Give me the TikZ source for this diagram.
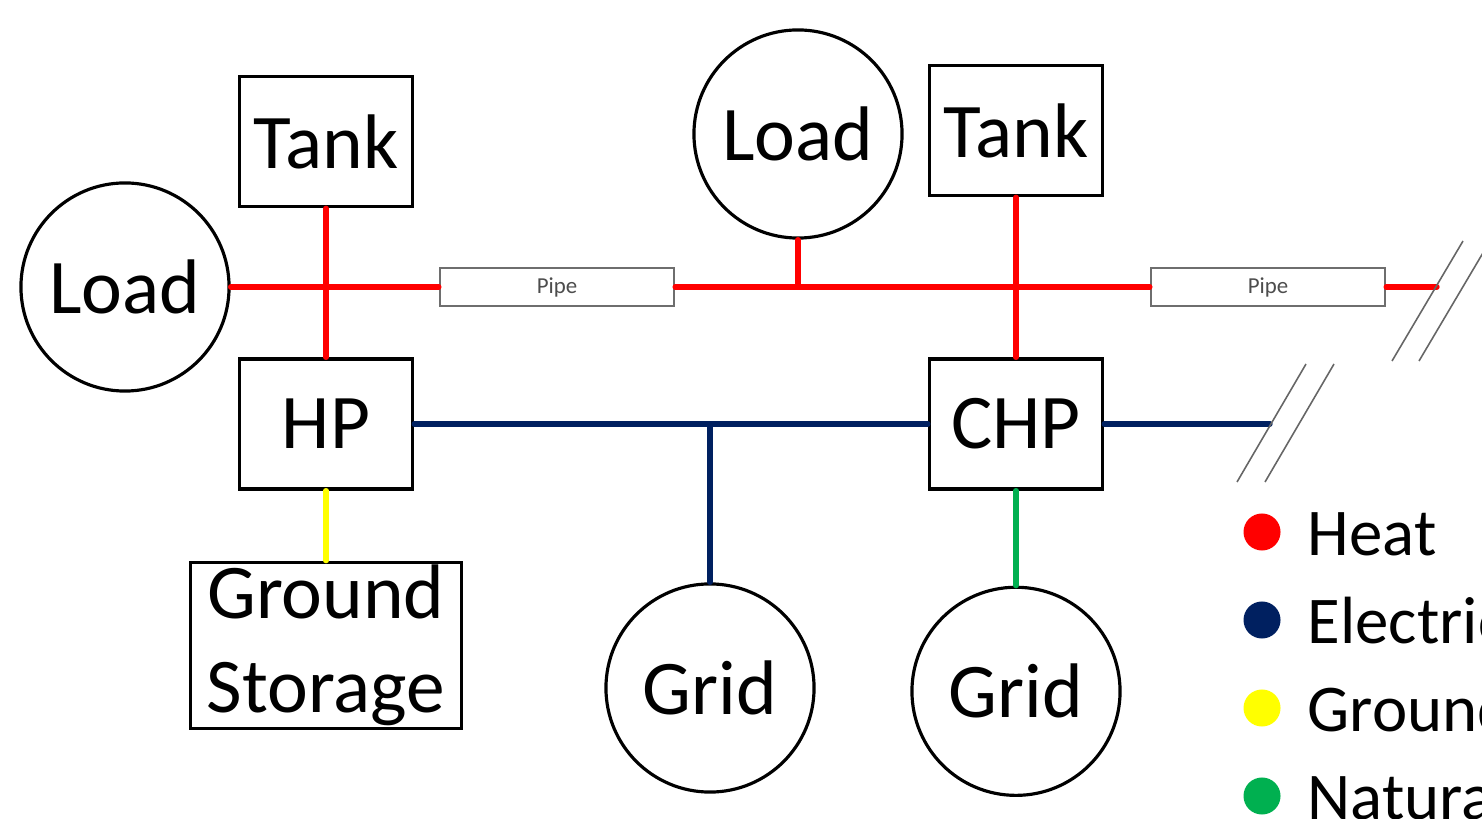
\documentclass[tikz,border=0pt]{standalone}
\usepackage{fontspec}
\setmainfont{Carlito}
\usetikzlibrary{positioning}
\definecolor{heatred}{RGB}{255,0,0}
\definecolor{elecblue}{RGB}{0,32,96}
\definecolor{groundyellow}{RGB}{255,255,0}
\definecolor{gasgreen}{RGB}{0,176,80}
\definecolor{pipegray}{RGB}{110,110,110}

\begin{document}
\begin{tikzpicture}[
    x=0.01cm, y=-0.01cm,
    every node/.style={font=\fontsize{22}{26.5}\selectfont},
    box/.style={draw, line width=0.9pt, minimum width=1.73cm, minimum height=1.3cm, inner sep=0pt, align=center},
    unit/.style={draw, circle, line width=0.9pt, minimum size=2.08cm, inner sep=0pt},
    pipe/.style={draw=pipegray, line width=0.6pt, minimum width=2.34cm, minimum height=0.38cm, inner sep=0pt, text=pipegray!70!black, font=\fontsize{6.5}{7}\selectfont},
    flow/.style={line width=1.5pt, line cap=round},
    cut/.style={draw=gray!80!black, line width=0.45pt},
    dot/.style={circle, minimum size=0.37cm, inner sep=0pt},
    legend/.style={anchor=base west, inner sep=0pt, font=\fontsize{19}{23}\selectfont}
  ]
    \useasboundingbox (0,0) rectangle (1482,819);
    \clip (0,0) rectangle (1482,819);

    \node[box] (hpL) at (326,424) {HP};
    \node[box, above=1.49cm of hpL] (tankL) {Tank};
    \node[box, minimum width=2.71cm, minimum height=1.66cm, below=0.7cm of hpL] (gstore) {Ground\\Storage};
    \node[unit] (loadL) at (125,287) {Load};
    \node[pipe] (pipeA) at (557,287) {Pipe};
    \node[unit] (loadT) at (798,134) {Load};
    \node[box] (chp) at (1016,424) {CHP};
    \node[box, above=1.6cm of chp] (tankR) {Tank};
    \node[pipe] (pipeB) at (1268,287) {Pipe};
    \node[unit] (gridA) at (710,688) {Grid};
    \node[unit, below=0.95cm of chp] (gridB) {Grid};
    \coordinate (heatcut) at (1437,287);
    \coordinate (eleccut) at (1270,424);

    \draw[flow, heatred] (loadL) -- (pipeA);
    \draw[flow, heatred] (pipeA) -- (pipeB);
    \draw[flow, heatred] (pipeB) -- (heatcut);
    \draw[flow, heatred] (tankL) -- (hpL);
    \draw[flow, heatred] (tankR) -- (chp);
    \draw[flow, heatred] (loadT) -- (loadT |- pipeA);

    \draw[flow, elecblue] (hpL) -- (chp);
    \draw[flow, elecblue] (chp) -- (eleccut);
    \draw[flow, elecblue] (gridA |- hpL) -- (gridA);
    \draw[flow, groundyellow] (hpL) -- (gstore);
    \draw[flow, gasgreen] (chp) -- (gridB);

    \draw[cut] (1237,482) -- (1306,364);
    \draw[cut] (1265,482) -- (1334,364);
    \draw[cut] (1392,361) -- (1463,241);
    \draw[cut] (1419,361) -- (1490,241);

    \node[dot, fill=heatred] (dheat) at (1262,532) {};
    \node[dot, fill=elecblue] (delec) at (1262,620) {};
    \node[dot, fill=groundyellow] (dground) at (1262,708) {};
    \node[dot, fill=gasgreen] (dgas) at (1262,796) {};
    \node[legend] (theat) at ([xshift=0.45cm, yshift=-0.23cm]dheat.center) {Heat};
    \node[legend] (telec) at ([xshift=0.45cm, yshift=-0.23cm]delec.center) {Electricity};
    \node[legend] (tground) at ([xshift=0.45cm, yshift=-0.23cm]dground.center) {Ground};
    \node[legend] (tgas) at ([xshift=0.45cm, yshift=-0.23cm]dgas.center) {Natural Gas};
\end{tikzpicture}
\end{document}
